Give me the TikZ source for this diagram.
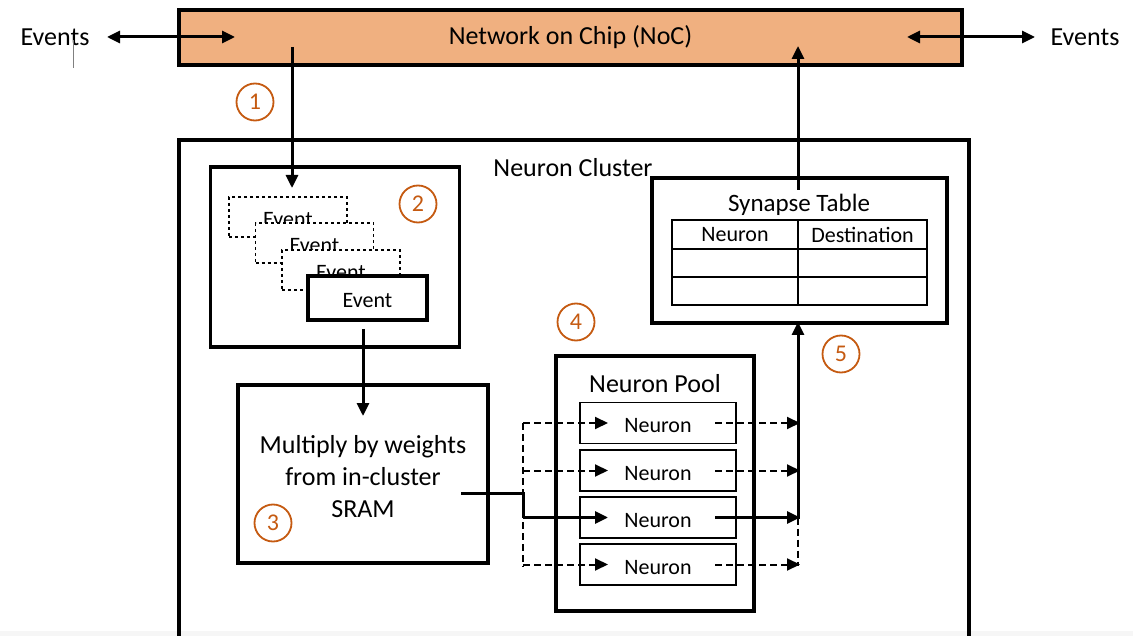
\documentclass[tikz,border=0pt]{standalone}
\usepackage{fontspec}
\setmainfont{Carlito}
\usetikzlibrary{arrows.meta}
\definecolor{nocfill}{HTML}{F0B080}
\definecolor{numorange}{HTML}{C55A11}
\definecolor{bandgray}{HTML}{F6F6F6}
\begin{document}
\begin{tikzpicture}[x=1pt,y=-1pt,
  big/.style={font=\fontsize{26}{31}\selectfont},
  mid/.style={font=\fontsize{22}{26}\selectfont},
  fixtext/.style={text height=19pt, text depth=0pt},
  box/.style={draw, line width=3.4pt, inner sep=0pt, outer sep=0pt},
  evdash/.style={draw, dashed, line width=1.1pt, fill=white, minimum width=118pt, minimum height=40pt, inner sep=0pt, outer sep=0pt, mid, fixtext},
  evsolid/.style={draw, line width=3.4pt, fill=white, minimum width=119pt, minimum height=44pt, inner sep=0pt, outer sep=0pt, mid, fixtext},
  neur/.style={draw, line width=1.4pt, fill=white, minimum width=156pt, minimum height=41pt, inner sep=0pt, outer sep=0pt, mid, fixtext},
  cell/.style={draw, line width=1.4pt, inner sep=0pt, outer sep=0pt, mid},
  num/.style={circle, draw=numorange, line width=1.8pt, text=numorange, minimum size=37pt, inner sep=0pt, font=\fontsize{24}{28}\selectfont},
  conn/.style={line width=3pt, -{Triangle[length=13pt,width=12pt]}},
  plain/.style={line width=3pt},
  dconn/.style={line width=2pt, dash pattern=on 7pt off 4pt, -{Triangle[length=13pt,width=12pt]}},
  dplain/.style={line width=2pt, dash pattern=on 7pt off 4pt},
  biarrow/.style={line width=3pt, {Triangle[length=13pt,width=12pt]}-{Triangle[length=13pt,width=12pt]}}
]
\useasboundingbox (0,0) rectangle (1133,636);
\fill[bandgray] (0,631) rectangle (1133,636);

% Network on chip
\node[box, fill=nocfill, minimum width=783pt, minimum height=55pt, big] (noc) at (570.5,37.5) {Network on Chip (NoC)};
\node[big, anchor=center] (evL) at (55,37) {Events};
\node[big, anchor=center] (evR) at (1085,37) {Events};
\draw[line width=0.7pt, gray] (73,40) -- (73,68);
\coordinate (lA) at (107,37); \coordinate (lB) at (235,37);
\coordinate (rA) at (907,37); \coordinate (rB) at (1035,37);
\draw[biarrow] (lA) -- (lB);
\draw[biarrow] (rA) -- (rB);

% Neuron cluster
\coordinate (clBL) at (179,640); \coordinate (clTL) at (179,140);
\coordinate (clTR) at (969,140); \coordinate (clBR) at (969,640);
\draw[line width=3.4pt] (clBL) -- (clTL) -- (clTR) -- (clBR);
\node[big] (cltitle) at (573,168) {Neuron Cluster};

% Event queue
\node[box, minimum width=249pt, minimum height=180pt] (queue) at (335,257) {};
\node[evdash] (ev1) at (288,217) {Event};
\node[evdash] (ev2) at (314.5,243) {Event};
\node[evdash] (ev3) at (341,270) {Event};
\node[evsolid] (ev4) at (367.5,298) {Event};

% Multiply box
\node[box, minimum width=250pt, minimum height=178pt] (mult) at (363,474) {};
\node[big, align=center, font=\fontsize{26}{32}\selectfont] (multtxt) at (363,477) {Multiply by weights\\from in-cluster\\SRAM};

% Neuron pool
\node[box, minimum width=198pt, minimum height=255pt] (pool) at (655,483.5) {};
\node[big] (pooltitle) at (655,384) {Neuron Pool};
\node[neur] (n1) at (658,423) {Neuron};
\node[neur] (n2) at (658,470.5) {Neuron};
\node[neur] (n3) at (658,517.5) {Neuron};
\node[neur] (n4) at (658,564.5) {Neuron};

% Synapse table
\node[box, minimum width=295pt, minimum height=145pt] (syn) at (799.5,250.5) {};
\node[font=\fontsize{25}{30}\selectfont] (syntitle) at (799,205) {Synapse Table};
\node[cell, minimum width=126pt, minimum height=29pt] (h1) at (735,234.5) {Neuron};
\node[cell, minimum width=129pt, minimum height=29pt] (h2) at (862.5,234.5) {Destination};
\node[cell, minimum width=126pt, minimum height=28pt] (r11) at (735,263) {};
\node[cell, minimum width=129pt, minimum height=28pt] (r12) at (862.5,263) {};
\node[cell, minimum width=126pt, minimum height=28pt] (r21) at (735,291) {};
\node[cell, minimum width=129pt, minimum height=28pt] (r22) at (862.5,291) {};

% numbered circles
\node[num] (c1) at (255,102) {1};
\node[num] (c2) at (418,204) {2};
\node[num] (c3) at (273,523) {3};
\node[num] (c4) at (576,322) {4};
\node[num] (c5) at (841,354) {5};

% connectors
\coordinate (a1s) at (292,47); \coordinate (a1e) at (292,188);
\draw[conn] (a1s) -- (a1e);
\coordinate (a2s) at (363,329); \coordinate (a2e) at (363,416);
\draw[conn] (a2s) -- (a2e);

\coordinate (mo) at (461,493);
\coordinate (mj) at (523,493);
\coordinate (bT) at (523,423); \coordinate (bB) at (523,567);
\coordinate (i1) at (608,423); \coordinate (i2) at (608,470.5);
\coordinate (i3) at (608,517.5); \coordinate (i4) at (608,564.5);
\coordinate (b2) at (523,470.5); \coordinate (b3) at (523,517.5); \coordinate (b4) at (523,564.5);
\draw[dplain] (bT) -- (bB);
\draw[dconn] (bT) -- (i1);
\draw[dconn] (b2) -- (i2);
\draw[dconn] (b4) -- (i4);
\draw[plain] (mo) -- (mj) -- (b3);
\draw[conn] (b3) -- (i3);

\coordinate (o1) at (715,423); \coordinate (o2) at (715,470.5);
\coordinate (o3) at (715,517.5); \coordinate (o4) at (715,564.5);
\coordinate (t1) at (800,423); \coordinate (t2) at (800,470.5);
\coordinate (t3) at (800,517.5); \coordinate (t4) at (800,564.5);
\coordinate (synB) at (798,322);
\draw[dplain] (798,517.5) -- (798,566);
\draw[dconn] (o1) -- (t1);
\draw[dconn] (o2) -- (t2);
\draw[dconn] (o4) -- (t4);
\draw[conn] (o3) -- (t3);
\draw[conn] (798,519) -- (synB);

\coordinate (s1) at (798,190); \coordinate (s2) at (798,46);
\draw[conn] (s1) -- (s2);
\end{tikzpicture}
\end{document}
